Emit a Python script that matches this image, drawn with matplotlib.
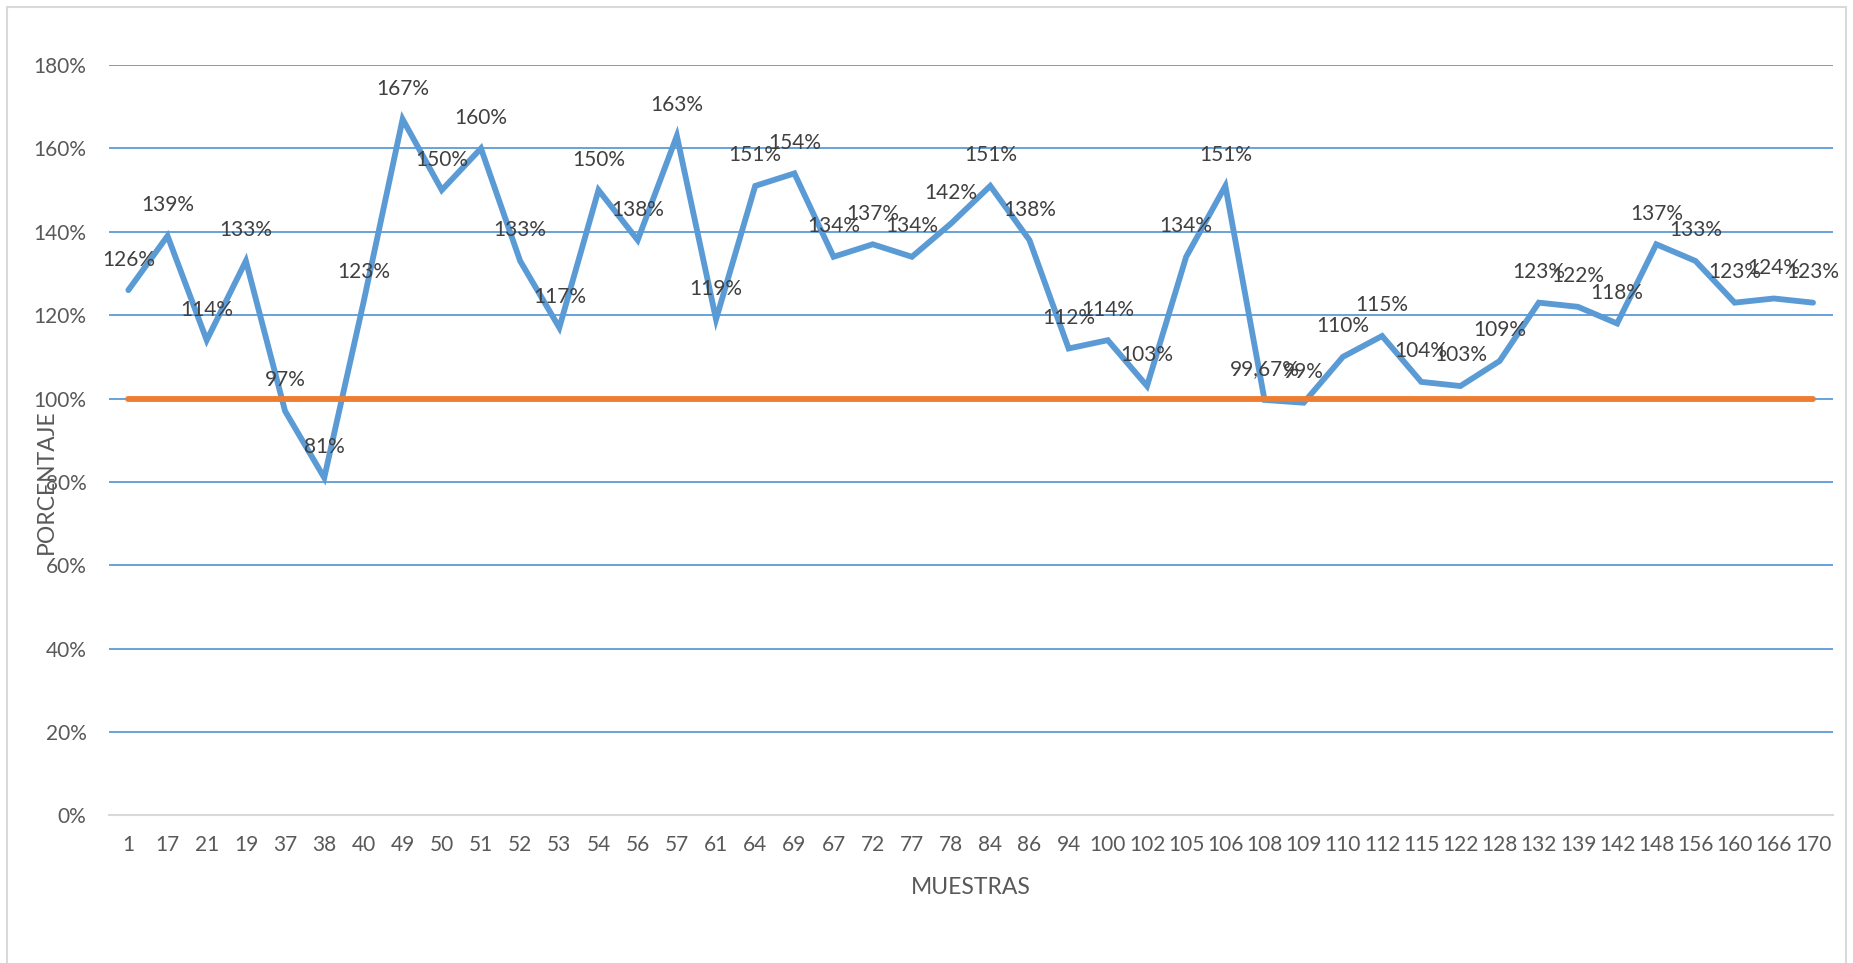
import matplotlib
matplotlib.use("Agg")
import matplotlib.pyplot as plt
from matplotlib.patches import Rectangle

plt.rcParams['font.family'] = ['Lato', 'DejaVu Sans']

# sample ids along the x axis (kept in the order they were measured)
muestras = ["1", "17", "21", "19", "37", "38", "40", "49", "50", "51", "52", "53",
            "54", "56", "57", "61", "64", "69", "67", "72", "77", "78", "84", "86",
            "94", "100", "102", "105", "106", "108", "109", "110", "112", "115",
            "122", "128", "132", "139", "142", "148", "156", "160", "166", "170"]

# percentage per sample
porcentaje = [126, 139, 114, 133, 97, 81, 123, 167, 150, 160, 133, 117,
              150, 138, 163, 119, 151, 154, 134, 137, 134, 142, 151, 138,
              112, 114, 103, 134, 151, 99.67, 99, 110, 115, 104,
              103, 109, 123, 122, 118, 137, 133, 123, 124, 123]

# reference level (100 %)
limite = [100] * len(muestras)

y_ticks = [0, 20, 40, 60, 80, 100, 120, 140, 160, 180]
y_labels = [f"{t}%" for t in y_ticks]

AZUL = "#5B9BD5"
NARANJA = "#ED7D31"
GRIS_TXT = "#595959"
GRIS_LBL = "#404040"


def etiqueta(v):
    if float(v).is_integer():
        return f"{int(v)}%"
    return f"{v:.2f}%".replace(".", ",")


fig = plt.figure(figsize=(18.53, 9.63), dpi=100)
ax = fig.add_axes([0.0587, 0.1532, 0.9303, 0.7793])

x = list(range(len(muestras)))
ax.plot(x, porcentaje, color=AZUL, lw=4.2, solid_capstyle="round",
        solid_joinstyle="miter", zorder=3)
ax.plot(x, limite, color=NARANJA, lw=4.2, solid_capstyle="round", zorder=4)

for xi, v in zip(x, porcentaje):
    ax.annotate(etiqueta(v), (xi, v), xytext=(0, 22), textcoords="offset points",
                ha="center", va="center", fontsize=15, color=GRIS_LBL, zorder=5)

ax.set_xlim(-0.5, len(muestras) - 0.5)
ax.set_ylim(0, 180)
ax.set_yticks(y_ticks)
ax.set_yticklabels(y_labels)
ax.set_xticks(x)
ax.set_xticklabels(muestras)
ax.tick_params(axis="both", length=0, labelsize=15, labelcolor=GRIS_TXT)
ax.tick_params(axis="y", pad=16)
ax.tick_params(axis="x", pad=14)

# horizontal gridlines in blue, the 0 % line is the grey category axis
for t in y_ticks[1:]:
    ax.axhline(t, color=AZUL, lw=1.3, zorder=1)
for s in ["top", "right", "left"]:
    ax.spines[s].set_visible(False)
ax.spines["bottom"].set_color("#D9D9D9")
ax.spines["bottom"].set_linewidth(1.5)

ax.set_xlabel("MUESTRAS", fontsize=16.5, color=GRIS_TXT, labelpad=16)
fig.text(46 / 1853, 1 - 482 / 963, "PORCENTAJE", rotation=90, fontsize=16.5,
         color=GRIS_TXT, ha="center", va="center")

# chart area frame (bottom edge falls outside the image)
fig.add_artist(Rectangle((7.3 / 1853, -0.05), (1846 - 7.3) / 1853, 1.05 - 6.7 / 963,
                         transform=fig.transFigure, fill=False,
                         edgecolor="#D9D9D9", lw=1.5))

fig.savefig("out.png", dpi=100, facecolor="white")
